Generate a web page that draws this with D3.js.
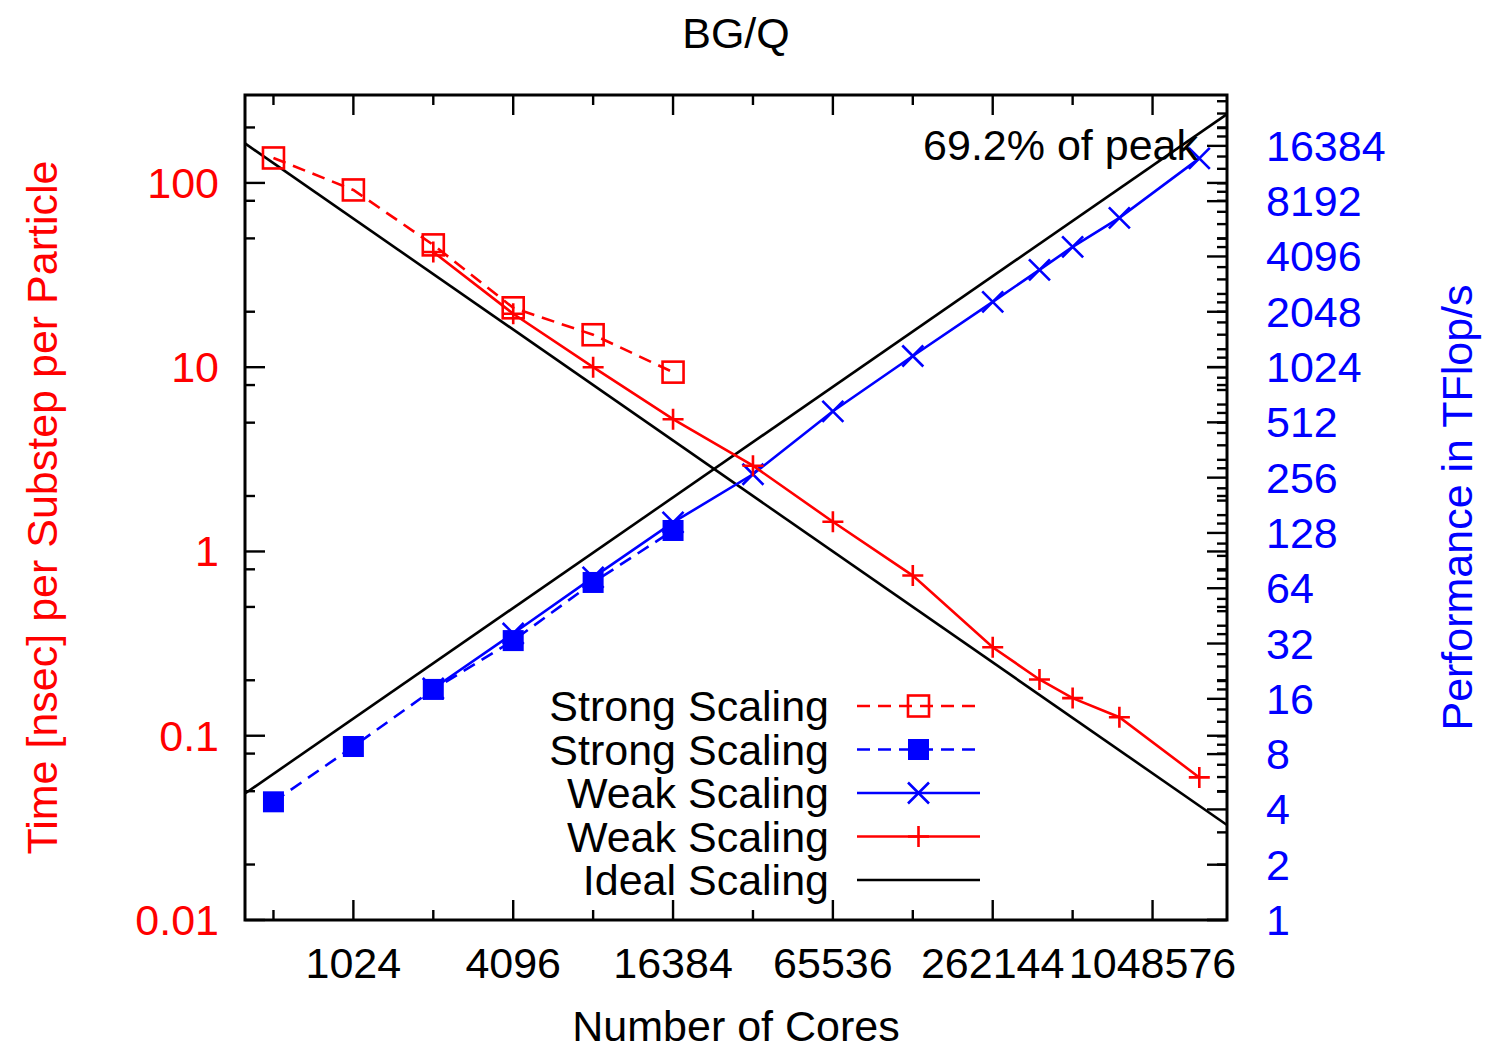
<!DOCTYPE html>
<html>
<head>
<meta charset="utf-8">
<script src="https://cdn.jsdelivr.net/npm/d3@7"></script>
<style>
  html, body { margin: 0; padding: 0; background: #fff; }
  svg { display: block; font-family: "Liberation Sans", Arial, Helvetica, sans-serif; }
</style>
</head>
<body>
<svg id="chart" width="1498" height="1051"></svg>
<script>
// Scaling runs on BG/Q: time per substep per particle (left) and sustained performance (right)
const strongCores = [512, 1024, 2048, 4096, 8192, 16384];
const strongTime  = [136.6, 91.6, 46.1, 21.0, 15.0, 9.4];
const strongPerf  = [4.4, 8.8, 18.0, 33.2, 68.8, 132];

const weakCores = [2048, 4096, 8192, 16384, 32768, 65536, 131072, 262144, 393216, 524288, 786432, 1572864];
const weakTime  = [42.2, 19.5, 10.0, 5.22, 2.92, 1.45, 0.74, 0.302, 0.202, 0.16, 0.126, 0.0594];
const weakPerf  = [18.2, 36.3, 73.3, 146, 267, 588, 1176, 2318, 3465, 4620, 6650, 14000];

// Ideal scaling reference lines (end points across the core range)
const idealCores = [400, 2000000];
const idealTime  = [163.84, 0.03277];
const idealPerf  = [4.88, 24400];

const xTickValues  = [1024, 4096, 16384, 65536, 262144, 1048576];
const xMinorValues = [512, 2048, 8192, 32768, 131072, 524288];
const yTickValues  = [0.01, 0.1, 1, 10, 100];
const yTickLabels  = ["0.01", "0.1", "1", "10", "100"];
const yMinorValues = [0.02, 0.05, 0.08, 0.2, 0.5, 0.8, 2, 5, 8, 20, 50, 80, 200];
const y2TickValues = [1, 2, 4, 8, 16, 32, 64, 128, 256, 512, 1024, 2048, 4096, 8192, 16384];

const legendLabels = ["Strong Scaling", "Strong Scaling", "Weak Scaling", "Weak Scaling", "Ideal Scaling"];

const RED = "#ff0000", BLUE = "#0000ff", BLACK = "#000000";
const FONT = 43;

const svg = d3.select("#chart");
const plotL = 245, plotR = 1227, plotT = 95, plotB = 920;

const x  = d3.scaleLog().base(2).domain([400, 2000000]).range([plotL, plotR]);
const y  = d3.scaleLog().domain([0.01, 300]).range([plotB, plotT]);
const y2 = d3.scaleLog().base(2).domain([1, 31000]).range([plotB, plotT]);

// minor ticks on the performance axis
const y2MinorValues = [];
y2TickValues.forEach(m => {
  if (m === 2) y2MinorValues.push(3);
  else if (m === 4) y2MinorValues.push(5, 6, 7);
  else if (m >= 8) [1.125, 1.25, 1.5, 1.75].forEach(f => { if (m * f < 31000) y2MinorValues.push(m * f); });
});

svg.append("defs").append("clipPath").attr("id", "plotClip")
  .append("rect").attr("x", plotL).attr("y", plotT).attr("width", plotR - plotL).attr("height", plotB - plotT);

// ---- ticks (drawn inward) ----
const tickG = svg.append("g").attr("stroke", BLACK).attr("stroke-width", 2.4);
const MAJ = 20, MIN = 10;
function xTicks(vals, len) {
  vals.forEach(v => {
    tickG.append("line").attr("x1", x(v)).attr("x2", x(v)).attr("y1", plotB).attr("y2", plotB - len);
    tickG.append("line").attr("x1", x(v)).attr("x2", x(v)).attr("y1", plotT).attr("y2", plotT + len);
  });
}
xTicks(xTickValues, MAJ);
xTicks(xMinorValues, MIN);
function yTicks(vals, len) {
  vals.forEach(v => {
    tickG.append("line").attr("x1", plotL).attr("x2", plotL + len).attr("y1", y(v)).attr("y2", y(v));
    tickG.append("line").attr("x1", plotR).attr("x2", plotR - len).attr("y1", y(v)).attr("y2", y(v));
  });
}
yTicks(yTickValues, MAJ);
yTicks(yMinorValues, MIN);
y2TickValues.forEach(v => tickG.append("line").attr("x1", plotR).attr("x2", plotR - MAJ).attr("y1", y2(v)).attr("y2", y2(v)));
y2MinorValues.forEach(v => tickG.append("line").attr("x1", plotR).attr("x2", plotR - MIN).attr("y1", y2(v)).attr("y2", y2(v)));

// ---- tick labels ----
const labG = svg.append("g").attr("font-size", FONT);
xTickValues.forEach(v => labG.append("text").attr("x", x(v)).attr("y", 978).attr("text-anchor", "middle").attr("fill", BLACK).text(v));
yTickValues.forEach((v, i) => labG.append("text").attr("x", 219).attr("y", y(v) + 15).attr("text-anchor", "end").attr("fill", RED).text(yTickLabels[i]));
y2TickValues.forEach(v => labG.append("text").attr("x", 1266).attr("y", y2(v) + 15).attr("text-anchor", "start").attr("fill", BLUE).text(v));

// ---- titles ----
svg.append("text").attr("x", (plotL + plotR) / 2).attr("y", 48).attr("text-anchor", "middle").attr("font-size", FONT).text("BG/Q");
svg.append("text").attr("x", (plotL + plotR) / 2).attr("y", 1041).attr("text-anchor", "middle").attr("font-size", FONT).text("Number of Cores");
svg.append("text").attr("transform", `translate(57,${(plotT + plotB) / 2}) rotate(-90)`)
  .attr("text-anchor", "middle").attr("font-size", FONT).attr("fill", RED).text("Time [nsec] per Substep per Particle");
svg.append("text").attr("transform", `translate(1472,${(plotT + plotB) / 2}) rotate(-90)`)
  .attr("text-anchor", "middle").attr("font-size", FONT).attr("fill", BLUE).text("Performance in TFlop/s");

// ---- series ----
const plot = svg.append("g").attr("clip-path", "url(#plotClip)");
const lineT = d3.line().x(d => x(d[0])).y(d => y(d[1]));
const lineP = d3.line().x(d => x(d[0])).y(d => y2(d[1]));
const zip = (a, b) => a.map((v, i) => [v, b[i]]);

const DASH = "13,8";
const LW = 2.6;

function marker(g, kind, cx, cy, color) {
  const h = 10.5;
  if (kind === "openSquare") {
    g.append("rect").attr("x", cx - h).attr("y", cy - h).attr("width", 2 * h).attr("height", 2 * h)
      .attr("fill", "none").attr("stroke", color).attr("stroke-width", LW);
  } else if (kind === "filledSquare") {
    g.append("rect").attr("x", cx - h).attr("y", cy - h).attr("width", 2 * h).attr("height", 2 * h).attr("fill", color);
  } else if (kind === "cross") {
    g.append("path").attr("d", `M${cx - h},${cy - h}L${cx + h},${cy + h}M${cx - h},${cy + h}L${cx + h},${cy - h}`)
      .attr("stroke", color).attr("stroke-width", LW).attr("fill", "none");
  } else if (kind === "plus") {
    g.append("path").attr("d", `M${cx - h},${cy}L${cx + h},${cy}M${cx},${cy - h}L${cx},${cy + h}`)
      .attr("stroke", color).attr("stroke-width", LW).attr("fill", "none");
  }
}

// ideal scaling
plot.append("path").attr("d", lineT(zip(idealCores, idealTime))).attr("stroke", BLACK).attr("stroke-width", LW).attr("fill", "none");
plot.append("path").attr("d", lineP(zip(idealCores, idealPerf))).attr("stroke", BLACK).attr("stroke-width", LW).attr("fill", "none");

const series = [
  { data: zip(strongCores, strongTime), line: lineT, sc: y,  color: RED,  dash: DASH, mark: "openSquare" },
  { data: zip(strongCores, strongPerf), line: lineP, sc: y2, color: BLUE, dash: DASH, mark: "filledSquare" },
  { data: zip(weakCores, weakPerf),     line: lineP, sc: y2, color: BLUE, dash: null, mark: "cross" },
  { data: zip(weakCores, weakTime),     line: lineT, sc: y,  color: RED,  dash: null, mark: "plus" }
];
series.forEach(s => {
  plot.append("path").attr("d", s.line(s.data)).attr("stroke", s.color).attr("stroke-width", LW)
    .attr("fill", "none").attr("stroke-dasharray", s.dash);
  const mg = plot.append("g");
  s.data.forEach(d => marker(mg, s.mark, x(d[0]), s.sc(d[1]), s.color));
});

// annotation
svg.append("text").attr("x", 1198).attr("y", 160).attr("text-anchor", "end").attr("font-size", FONT).text("69.2% of peak");

// ---- legend ----
const legendStyles = [
  { color: RED,   dash: DASH, mark: "openSquare" },
  { color: BLUE,  dash: DASH, mark: "filledSquare" },
  { color: BLUE,  dash: null, mark: "cross" },
  { color: RED,   dash: null, mark: "plus" },
  { color: BLACK, dash: null, mark: null }
];
const lg = svg.append("g");
legendLabels.forEach((t, i) => {
  const cy = 706 + i * 43.5;
  lg.append("text").attr("x", 829).attr("y", cy + 15).attr("text-anchor", "end").attr("font-size", FONT).text(t);
  const st = legendStyles[i];
  lg.append("line").attr("x1", 857).attr("x2", 980).attr("y1", cy).attr("y2", cy)
    .attr("stroke", st.color).attr("stroke-width", LW).attr("stroke-dasharray", st.dash);
  if (st.mark) marker(lg, st.mark, 918.5, cy, st.color);
});

// ---- frame ----
svg.append("rect").attr("x", plotL).attr("y", plotT).attr("width", plotR - plotL).attr("height", plotB - plotT)
  .attr("fill", "none").attr("stroke", BLACK).attr("stroke-width", 3);
</script>
</body>
</html>
